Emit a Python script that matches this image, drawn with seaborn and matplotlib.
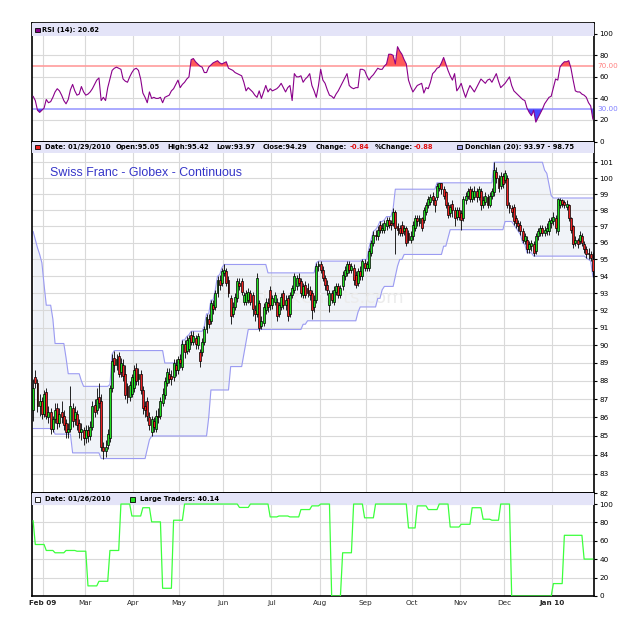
import numpy as np
import pandas as pd
import matplotlib
matplotlib.use("Agg")
import matplotlib.pyplot as plt
from matplotlib.patches import Rectangle
from matplotlib.ticker import NullLocator
import matplotlib.transforms as mtransforms
import seaborn as sns

# daily bars, Swiss Franc futures, 26 Jan 2009 - 29 Jan 2010
open_px = [
    86.4, 88.2, 87.9, 86.6, 86.9, 86.2, 87.4, 86.0, 86.3, 85.4,
    85.9, 86.5, 85.7, 86.3, 86.1, 85.7, 85.2, 85.4, 86.5, 85.9,
    86.2, 85.7, 85.2, 85.3, 84.9, 85.3, 85.0, 85.5, 86.7, 86.4,
    87.1, 86.9, 84.4, 84.2, 84.5, 84.9, 87.6, 89.3, 88.9, 89.4,
    88.5, 88.9, 88.4, 87.7, 87.1, 87.3, 87.6, 88.7, 88.1, 88.4,
    87.5, 86.6, 86.9, 86.0, 85.2, 85.8, 85.4, 86.1, 86.1, 86.8,
    87.2, 87.9, 88.4, 88.3, 88.2, 88.9, 88.6, 89.2, 88.8, 90.1,
    89.7, 89.8, 90.6, 90.2, 90.4, 90.0, 89.6, 89.6, 90.2, 90.9,
    91.5, 91.4, 92.3, 92.2, 93.0, 93.8, 93.6, 94.2, 94.3, 93.8,
    92.7, 91.8, 92.2, 92.7, 93.6, 93.7, 92.5, 92.5, 92.6, 93.0,
    92.9, 92.0, 91.8, 92.4, 91.1, 91.3, 92.0, 92.4, 93.2, 92.3,
    92.5, 92.5, 91.8, 92.2, 93.0, 92.3, 92.7, 91.8, 92.9, 93.2,
    93.4, 93.9, 93.7, 92.9, 93.5, 93.3, 93.2, 93.0, 92.2, 92.6,
    94.6, 94.7, 94.4, 93.9, 93.5, 92.3, 93.0, 92.5, 93.1, 93.4,
    92.9, 93.4, 94.0, 94.2, 94.7, 94.4, 94.5, 94.1, 93.6, 94.3,
    94.0, 94.8, 94.5, 94.5, 95.4, 96.0, 96.5, 96.4, 97.1, 96.8,
    96.8, 97.0, 97.4, 97.2, 97.2, 97.9, 97.0, 96.9, 97.1, 96.7,
    96.9, 96.6, 96.2, 96.4, 96.9, 97.5, 97.2, 97.5, 97.4, 97.9,
    98.3, 98.5, 98.9, 98.6, 98.8, 99.4, 99.7, 99.3, 99.1, 98.3,
    97.8, 98.4, 98.0, 97.6, 98.0, 97.8, 97.5, 98.6, 98.9, 99.3,
    98.7, 98.8, 99.2, 98.8, 99.2, 98.3, 98.5, 98.8, 98.3, 98.9,
    99.1, 100.4, 100.0, 99.5, 100.1, 99.9, 100.0, 98.3, 98.1, 98.2,
    97.5, 97.2, 97.1, 96.7, 96.1, 96.2, 95.6, 95.8, 95.9, 95.5,
    96.4, 96.6, 96.9, 96.6, 96.7, 96.7, 97.2, 97.3, 97.5, 96.7,
    98.3, 98.6, 98.5, 98.2, 98.3, 97.5, 97.0, 96.0, 96.2, 96.1,
    96.4, 95.9, 95.6, 95.4, 95.3, 95.05,
]
close_px = [
    87.6, 87.9, 86.6, 86.9, 86.2, 87.3, 86.1, 86.3, 85.4, 85.9,
    86.4, 85.7, 86.2, 86.0, 85.6, 85.2, 85.4, 86.6, 85.8, 86.3,
    85.6, 85.2, 85.4, 84.9, 85.3, 85.0, 85.5, 86.6, 86.3, 87.0,
    86.8, 84.4, 84.2, 84.4, 85.1, 87.6, 89.1, 88.9, 89.2, 88.4,
    89.0, 88.3, 87.2, 87.1, 87.8, 88.2, 88.6, 88.0, 88.4, 87.5,
    86.5, 86.4, 86.1, 85.6, 85.9, 85.5, 86.1, 86.0, 86.9, 87.3,
    88.0, 88.5, 88.1, 88.1, 89.0, 88.6, 89.2, 89.0, 90.1, 89.6,
    90.3, 90.4, 90.2, 90.5, 90.1, 90.5, 89.1, 90.2, 90.9, 91.6,
    91.2, 92.4, 92.1, 93.0, 93.8, 93.5, 94.3, 94.4, 93.6, 93.0,
    91.7, 92.2, 92.8, 93.7, 93.4, 93.1, 92.9, 93.0, 93.1, 92.5,
    92.1, 91.8, 93.9, 91.0, 91.4, 92.2, 92.5, 92.2, 92.3, 92.7,
    92.9, 91.7, 92.3, 92.8, 92.3, 92.6, 91.7, 92.9, 93.3, 94.0,
    93.9, 93.6, 93.0, 93.4, 92.9, 93.0, 92.9, 92.0, 92.6, 94.6,
    94.7, 94.4, 93.9, 93.5, 93.2, 93.0, 92.6, 93.2, 93.4, 92.9,
    93.3, 94.1, 94.4, 94.7, 94.4, 94.6, 93.8, 93.5, 94.3, 94.0,
    94.9, 94.5, 94.7, 95.5, 96.0, 96.5, 96.4, 96.8, 96.8, 96.9,
    97.2, 97.4, 97.1, 97.1, 97.9, 96.9, 96.8, 96.6, 96.6, 96.9,
    96.0, 96.2, 96.4, 97.1, 97.5, 97.3, 97.5, 96.9, 98.0, 98.3,
    98.7, 98.8, 98.6, 98.3, 99.5, 99.7, 99.3, 98.9, 98.3, 97.7,
    98.2, 98.0, 97.5, 98.0, 97.6, 97.4, 98.7, 98.9, 99.2, 98.7,
    99.2, 99.2, 98.8, 99.3, 98.3, 98.6, 98.9, 98.3, 98.9, 99.2,
    100.5, 100.0, 99.4, 100.1, 99.6, 100.3, 98.3, 98.1, 97.9, 97.3,
    97.2, 97.0, 96.7, 96.2, 96.4, 95.6, 95.9, 96.0, 95.4, 96.4,
    96.7, 96.9, 96.6, 96.8, 96.9, 97.3, 97.4, 97.6, 96.9, 98.7,
    98.6, 98.4, 98.3, 98.4, 97.5, 96.8, 95.9, 96.2, 95.9, 96.5,
    96.0, 95.6, 95.3, 95.3, 95.1, 94.29,
]
high_px = [
    88.1, 88.6, 88.1, 87.3, 87.1, 87.5, 87.6, 86.6, 86.5, 86.1,
    86.8, 86.8, 86.5, 86.9, 86.4, 85.9, 85.7, 87.7, 86.8, 86.6,
    86.4, 85.9, 85.7, 85.5, 85.6, 85.6, 85.8, 86.9, 87.0, 87.6,
    87.9, 87.3, 84.7, 84.8, 85.4, 87.8, 89.5, 89.7, 89.5, 89.6,
    89.3, 89.2, 88.9, 87.9, 88.0, 88.4, 88.9, 89.0, 88.7, 88.6,
    87.7, 86.9, 87.1, 86.3, 86.1, 86.0, 86.4, 86.5, 87.1, 87.6,
    88.2, 88.7, 88.7, 88.6, 89.2, 89.2, 89.4, 89.5, 90.3, 90.3,
    90.5, 90.6, 90.8, 90.8, 90.6, 90.7, 89.8, 90.4, 91.1, 91.8,
    91.8, 92.6, 92.6, 93.2, 94.0, 94.1, 94.5, 94.7, 94.5, 94.0,
    92.9, 92.5, 93.0, 93.9, 93.9, 93.9, 93.1, 93.2, 93.3, 93.2,
    93.1, 92.3, 94.2, 92.6, 91.7, 92.4, 92.7, 92.7, 93.4, 92.9,
    93.1, 92.7, 92.5, 93.0, 93.2, 92.9, 92.9, 93.1, 93.5, 94.2,
    94.1, 94.2, 93.9, 93.6, 93.7, 93.6, 93.4, 93.2, 92.9, 94.8,
    94.9, 94.9, 94.6, 94.1, 93.8, 93.2, 93.2, 93.4, 93.6, 93.6,
    93.5, 94.3, 94.6, 94.9, 94.9, 94.8, 94.7, 94.3, 94.5, 94.6,
    95.0, 95.0, 94.9, 95.7, 96.2, 96.7, 96.8, 97.0, 97.3, 97.2,
    97.4, 97.6, 97.6, 97.4, 98.1, 98.0, 97.2, 97.1, 97.3, 97.1,
    97.0, 96.8, 96.7, 97.3, 97.7, 97.7, 97.7, 97.6, 98.2, 98.5,
    98.9, 99.0, 99.1, 98.8, 99.7, 99.7, 99.7, 99.5, 99.2, 98.5,
    98.4, 98.6, 98.2, 98.2, 98.2, 98.0, 98.9, 99.1, 99.4, 99.5,
    99.4, 99.5, 99.4, 99.5, 99.4, 98.9, 99.1, 99.0, 99.1, 99.4,
    101.0, 100.7, 100.2, 100.4, 100.3, 100.5, 100.2, 98.5, 98.3, 98.4,
    97.7, 97.4, 97.3, 96.9, 96.6, 96.4, 96.1, 96.2, 96.1, 96.6,
    96.9, 97.1, 97.1, 97.0, 97.2, 97.5, 97.6, 97.9, 97.7, 98.75,
    98.75, 98.7, 98.6, 98.6, 98.4, 97.6, 97.1, 96.4, 96.3, 96.7,
    96.6, 96.1, 95.8, 95.7, 95.5, 95.42,
]
low_px = [
    85.8, 87.6, 86.3, 86.1, 85.9, 86.0, 85.9, 85.7, 85.1, 85.2,
    85.7, 85.4, 85.5, 85.7, 85.3, 84.9, 84.9, 85.2, 85.5, 85.6,
    85.3, 84.9, 84.8, 84.5, 84.6, 84.7, 84.8, 85.3, 86.0, 86.2,
    86.5, 84.2, 83.8, 83.9, 84.3, 84.7, 87.4, 88.5, 88.6, 88.2,
    88.2, 88.0, 87.0, 86.8, 86.9, 87.1, 87.4, 87.8, 87.8, 87.3,
    86.2, 86.0, 85.8, 85.3, 85.0, 85.2, 85.2, 85.7, 85.9, 86.6,
    87.0, 87.7, 87.9, 87.8, 88.0, 88.3, 88.4, 88.7, 88.6, 89.3,
    89.5, 89.6, 90.0, 90.0, 89.8, 89.8, 88.8, 89.4, 90.0, 90.7,
    91.0, 91.2, 91.8, 92.0, 92.8, 93.2, 93.4, 94.0, 93.4, 92.8,
    91.2, 91.6, 92.0, 92.5, 93.2, 92.9, 92.3, 92.3, 92.4, 92.3,
    91.7, 91.4, 91.6, 90.8, 90.9, 91.1, 91.8, 91.9, 92.0, 92.1,
    92.3, 91.4, 91.6, 92.0, 92.1, 92.0, 91.4, 91.6, 92.7, 93.0,
    93.2, 93.4, 92.8, 92.7, 92.7, 92.8, 92.6, 91.5, 91.9, 92.4,
    94.3, 94.2, 93.7, 93.2, 92.9, 91.9, 92.4, 92.3, 92.9, 92.7,
    92.7, 93.2, 93.8, 94.0, 94.2, 94.2, 93.5, 93.3, 93.4, 93.8,
    93.8, 94.3, 94.3, 94.3, 95.2, 95.8, 96.2, 96.2, 96.6, 96.6,
    96.6, 96.8, 96.9, 96.8, 97.0, 95.3, 96.5, 96.4, 96.4, 96.5,
    95.8, 96.0, 96.0, 96.2, 96.7, 97.0, 97.0, 96.7, 97.2, 97.7,
    98.1, 98.3, 98.3, 97.9, 98.6, 99.2, 99.0, 98.7, 98.1, 97.5,
    97.6, 97.6, 97.0, 97.4, 97.4, 96.8, 97.3, 98.4, 98.7, 98.5,
    98.5, 98.6, 98.5, 98.6, 98.0, 98.1, 98.3, 98.1, 98.2, 98.7,
    98.9, 99.7, 99.1, 99.3, 99.4, 99.7, 98.1, 97.8, 97.6, 97.1,
    96.9, 96.7, 96.5, 96.0, 95.9, 95.4, 95.4, 95.5, 95.2, 95.3,
    96.2, 96.4, 96.4, 96.4, 96.5, 96.5, 96.9, 97.1, 96.6, 96.5,
    98.1, 98.2, 98.1, 98.0, 97.3, 96.6, 95.7, 95.8, 95.7, 95.9,
    95.8, 95.4, 95.1, 95.0, 94.9, 93.97,
]
donchian_hi = [
    96.7, 96.2, 95.7, 95.3, 94.8, 93.5, 92.3, 92.3, 92.3, 91.5,
    90.1, 90.1, 90.1, 90.1, 90.1, 89.3, 88.4, 88.4, 88.4, 88.4,
    88.4, 88.4, 88.0, 87.7, 87.7, 87.7, 87.7, 87.7, 87.7, 87.7,
    87.7, 87.7, 87.7, 87.7, 87.7, 87.8, 89.5, 89.7, 89.7, 89.7,
    89.7, 89.7, 89.7, 89.7, 89.7, 89.7, 89.7, 89.7, 89.7, 89.7,
    89.7, 89.7, 89.7, 89.7, 89.7, 89.7, 89.7, 89.7, 89.7, 89.7,
    89.0, 89.0, 89.0, 89.0, 89.0, 89.0, 89.0, 89.0, 90.3, 90.3,
    90.5, 90.6, 90.8, 90.8, 90.8, 90.8, 90.8, 90.8, 91.1, 91.8,
    91.8, 92.6, 92.6, 93.2, 94.0, 94.1, 94.5, 94.7, 94.7, 94.7,
    94.7, 94.7, 94.7, 94.7, 94.7, 94.7, 94.7, 94.7, 94.7, 94.7,
    94.7, 94.7, 94.7, 94.7, 94.7, 94.7, 94.7, 94.2, 94.2, 94.2,
    94.2, 94.2, 94.2, 94.2, 94.2, 94.2, 94.2, 94.2, 94.2, 94.2,
    94.2, 94.2, 94.2, 94.2, 94.2, 94.2, 94.2, 94.2, 94.2, 94.8,
    94.9, 94.9, 94.9, 94.9, 94.9, 94.9, 94.9, 94.9, 94.9, 94.9,
    94.9, 94.9, 94.9, 94.9, 94.9, 94.9, 94.9, 94.9, 94.9, 94.9,
    95.0, 95.0, 95.0, 95.7, 96.2, 96.7, 96.8, 97.0, 97.3, 97.3,
    97.4, 97.6, 97.6, 97.6, 98.1, 99.3, 99.3, 99.3, 99.3, 99.3,
    99.3, 99.3, 99.3, 99.3, 99.3, 99.3, 99.3, 99.3, 99.3, 99.3,
    99.3, 99.3, 99.3, 99.3, 99.7, 99.7, 99.7, 99.7, 99.7, 99.7,
    99.7, 99.7, 99.7, 99.7, 99.7, 99.7, 99.7, 99.7, 99.7, 99.7,
    99.7, 99.7, 99.7, 99.7, 99.7, 99.7, 99.7, 99.7, 99.7, 99.7,
    101.0, 101.0, 101.0, 101.0, 101.0, 101.0, 101.0, 101.0, 101.0, 101.0,
    101.0, 101.0, 101.0, 101.0, 101.0, 101.0, 101.0, 101.0, 101.0, 101.0,
    101.0, 101.0, 101.0, 100.5, 100.3, 99.6, 98.9, 98.75, 98.75, 98.75,
    98.75, 98.75, 98.75, 98.75, 98.75, 98.75, 98.75, 98.75, 98.75, 98.75,
    98.75, 98.75, 98.75, 98.75, 98.75, 98.75,
]
donchian_lo = [
    85.4, 85.4, 85.4, 85.4, 85.4, 85.4, 85.4, 85.4, 85.4, 85.4,
    85.1, 85.1, 85.1, 85.1, 85.1, 85.1, 85.1, 85.1, 84.1, 84.1,
    84.1, 84.1, 84.1, 84.1, 84.1, 84.1, 84.1, 84.1, 84.1, 84.1,
    84.1, 83.8, 83.8, 83.8, 83.8, 83.8, 83.8, 83.8, 83.8, 83.8,
    83.8, 83.8, 83.8, 83.8, 83.8, 83.8, 83.8, 83.8, 83.8, 83.8,
    83.8, 83.8, 84.3, 84.8, 85.0, 85.0, 85.0, 85.0, 85.0, 85.0,
    85.0, 85.0, 85.0, 85.0, 85.0, 85.0, 85.0, 85.0, 85.0, 85.0,
    85.0, 85.0, 85.0, 85.0, 85.0, 85.0, 85.0, 85.0, 85.0, 85.0,
    86.0, 87.5, 87.5, 87.5, 87.5, 87.5, 87.5, 87.5, 87.5, 87.5,
    88.8, 88.8, 88.8, 88.8, 88.8, 88.8, 89.5, 90.2, 90.9, 90.9,
    90.9, 90.9, 90.9, 90.9, 90.9, 90.9, 90.9, 90.9, 90.9, 90.9,
    90.9, 90.9, 90.9, 90.9, 90.9, 90.9, 90.9, 90.9, 90.9, 90.9,
    90.9, 90.9, 90.9, 91.2, 91.2, 91.4, 91.4, 91.4, 91.4, 91.4,
    91.4, 91.4, 91.4, 91.4, 91.4, 91.4, 91.4, 91.4, 91.4, 91.4,
    91.4, 91.4, 91.4, 91.4, 91.4, 91.4, 91.4, 91.4, 91.9, 92.2,
    92.2, 92.2, 92.2, 92.2, 92.2, 92.2, 92.2, 92.7, 92.7, 93.2,
    93.4, 93.4, 93.4, 93.4, 93.4, 94.0, 94.6, 95.0, 95.0, 95.3,
    95.3, 95.3, 95.3, 95.3, 95.3, 95.3, 95.3, 95.3, 95.3, 95.3,
    95.3, 95.3, 95.3, 95.3, 95.3, 95.3, 95.3, 95.8, 95.8, 96.3,
    96.8, 96.8, 96.8, 96.8, 96.8, 96.8, 96.8, 96.8, 96.8, 96.8,
    96.8, 96.8, 96.8, 96.8, 96.8, 96.8, 96.8, 96.8, 96.8, 96.8,
    96.8, 96.8, 96.8, 96.8, 96.8, 97.3, 97.3, 97.3, 97.3, 97.1,
    96.9, 96.7, 96.5, 96.0, 95.9, 95.4, 95.4, 95.4, 95.2, 95.2,
    95.2, 95.2, 95.2, 95.2, 95.2, 95.2, 95.2, 95.2, 95.2, 95.2,
    95.2, 95.2, 95.2, 95.2, 95.2, 95.2, 95.2, 95.2, 95.2, 95.2,
    95.2, 95.2, 95.1, 95.0, 94.9, 93.97,
]
rsi_14 = [
    42, 38, 29, 27, 29, 31, 39, 36, 37, 41,
    46, 49, 47, 43, 38, 35, 39, 48, 53, 47,
    43, 44, 51, 46, 43, 44, 46, 49, 53, 57,
    59, 38, 41, 38, 50, 58, 66, 68, 69, 68,
    67, 58, 56, 55, 60, 64, 67, 68, 66, 58,
    45, 41, 36, 46, 40, 41, 40, 40, 41, 36,
    41, 42, 43, 47, 49, 53, 57, 50, 53, 55,
    58, 60, 76, 77, 74, 72, 70, 69, 64, 64,
    69, 71, 73, 74, 75, 73, 72, 73, 74, 68,
    67, 66, 64, 63, 62, 61, 55, 47, 50, 48,
    46, 43, 41, 47, 40, 46, 52, 46, 49, 47,
    48, 49, 51, 54, 50, 46, 50, 52, 38, 63,
    60, 60, 61, 55, 58, 60, 63, 52, 47, 41,
    52, 67, 57, 54, 48, 43, 42, 40, 44, 47,
    51, 55, 59, 63, 52, 50, 49, 50, 50, 67,
    67, 66, 61, 57, 60, 62, 65, 68, 67, 67,
    70, 72, 81, 81, 80, 72, 88, 84, 81, 76,
    72, 57, 51, 46, 49, 52, 53, 54, 45, 50,
    49, 55, 63, 65, 68, 69, 73, 78, 72, 66,
    61, 57, 63, 47, 50, 54, 47, 41, 47, 52,
    49, 46, 50, 54, 58, 56, 54, 57, 58, 55,
    59, 63, 56, 50, 52, 54, 57, 60, 52, 47,
    45, 43, 41, 39, 38, 31, 27, 24, 29, 18,
    22, 26, 30, 35, 38, 41, 42, 50, 58, 57,
    69, 72, 74, 74, 75, 68, 57, 47, 46, 46,
    44, 43, 41, 36, 33, 20.62,
]
large_traders = [
    82, 56, 56, 56, 56, 56, 49.5, 49.5, 49.5, 49.5,
    47, 47, 47, 47, 47, 49.5, 49.5, 49.5, 49.5, 49.5,
    48.7, 48.7, 48.7, 48.7, 48.7, 11, 11, 11, 11, 11,
    16, 16, 16, 16, 16, 49.5, 49.5, 49.5, 49.5, 49.5,
    100, 100, 100, 100, 100, 87, 87, 87, 87, 87,
    96, 96, 96, 96, 80.6, 80.6, 80.6, 80.6, 80.6, 8.4,
    8.4, 8.4, 8.4, 8.4, 82.4, 82.4, 82.4, 82.4, 82.4, 100,
    100, 100, 100, 100, 100, 100, 100, 100, 100, 100,
    100, 100, 100, 100, 100, 100, 100, 100, 100, 100,
    100, 100, 100, 100, 96.3, 96.3, 96.3, 96.3, 96.3, 100,
    100, 100, 100, 100, 100, 100, 100, 100, 86, 86,
    86, 86, 87, 87, 87, 87, 87, 86, 86, 86,
    86, 86, 94, 94, 94, 94, 94, 98, 98, 98,
    98, 100, 100, 100, 100, 100, 0, 0, 0, 0,
    0, 47, 47, 47, 47, 47, 100, 100, 100, 100,
    100, 85, 85, 85, 85, 85, 100, 100, 100, 100,
    100, 100, 100, 100, 100, 100, 100, 100, 100, 100,
    100, 74, 74, 74, 74, 98, 98, 98, 98, 98,
    94, 94, 94, 94, 94, 100, 100, 100, 100, 100,
    75, 75, 75, 75, 75, 78, 78, 78, 78, 78,
    96, 96, 96, 96, 96, 83.5, 83.5, 83.5, 83.5, 82.4,
    82.4, 82.4, 82.4, 100, 100, 100, 100, 100, 0, 0,
    0, 0, 0, 0, 0, 0, 0, 0, 0, 0,
    0, 0, 0, 0, 0, 0, 0, 13.5, 13.5, 13.5,
    13.5, 13.5, 66, 66, 66, 66, 66, 66, 66, 66,
    66, 40.14, 40.14, 40.14, 40.14, 40.14,
]

holidays = pd.to_datetime(["2009-02-16", "2009-04-10", "2009-05-25", "2009-07-03",
                           "2009-09-07", "2009-11-26", "2009-12-25", "2010-01-01",
                           "2010-01-18"])
dates = pd.bdate_range("2009-01-26", "2010-01-29")
dates = dates[~dates.isin(holidays)]

df = pd.DataFrame({"date": dates, "open": open_px, "high": high_px, "low": low_px,
                   "close": close_px, "don_hi": donchian_hi, "don_lo": donchian_lo,
                   "rsi": rsi_14, "lt": large_traders})
df["idx"] = np.arange(len(df))
n = len(df)

sns.set_theme(style="white")
plt.rcParams["font.family"] = ["DejaVu Sans"]

W, H = 625, 623
fig = plt.figure(figsize=(W / 100, H / 100), dpi=100)
fig.patch.set_facecolor("white")


def fx(px):
    return px / W


def fy(py):
    return 1 - py / H


LEFT, RIGHT = 32, 594


def panel(top, bottom):
    return fig.add_axes([fx(LEFT), fy(bottom), fx(RIGHT - LEFT), (bottom - top) / H])


ax_rsi = panel(23, 141.5)
ax_px = panel(141.5, 493)
ax_lt = panel(493, 596)

# month boundaries
month_pos, month_lab, month_bold = [], [], []
for i in range(1, n):
    if dates[i].month != dates[i - 1].month:
        month_pos.append(i - 0.5)
        first = len(month_pos) == 1
        if first or dates[i].month == 1:
            month_lab.append(dates[i].strftime("%b %y"))
            month_bold.append(True)
        else:
            month_lab.append(dates[i].strftime("%b"))
            month_bold.append(False)

GRID = "#d9d9d9"
BAND = "#e4e4f8"


def style(ax, ticks, ylim, band_px, panel_px):
    ax.set_xlim(-0.5, n - 0.5)
    ax.set_ylim(*ylim)
    ax.set_yticks(ticks, [str(t) for t in ticks])
    ax.yaxis.set_minor_locator(NullLocator())
    ax.set_xticks(month_pos)
    ax.yaxis.tick_right()
    ax.tick_params(axis="y", which="major", direction="out", length=2.5, width=0.8,
                   color="black", labelsize=5.2, pad=1.5, labelcolor="black")
    ax.tick_params(axis="x", length=0, labelbottom=False)
    ax.grid(True, which="major", color=GRID, lw=0.8)
    ax.set_axisbelow(True)
    for s in ax.spines.values():
        s.set_color("black")
        s.set_linewidth(1.2)
    ax.set_xlabel("")
    ax.set_ylabel("")
    h = band_px / panel_px
    ax.add_patch(Rectangle((0, 1 - h), 1, h, transform=ax.transAxes, fc=BAND,
                           ec="none", zorder=3))


# ---- RSI panel
sns.lineplot(data=df, x="idx", y="rsi", ax=ax_rsi, color="#8a008a", lw=0.8,
             legend=False, zorder=4)
rsi = df["rsi"].to_numpy()
ax_rsi.fill_between(df["idx"], rsi, 70, where=rsi > 70, interpolate=True,
                    color="#ff5a5a", lw=0, zorder=3)
ax_rsi.fill_between(df["idx"], rsi, 30, where=rsi < 30, interpolate=True,
                    color="#4848ff", lw=0, zorder=3)
ax_rsi.axhline(70, color="#ff9c9c", lw=1.2, zorder=2)
ax_rsi.axhline(30, color="#9c9cff", lw=1.2, zorder=2)
style(ax_rsi, [0, 20, 40, 60, 80, 100], (0, 110), 12.5, 118.5)
blend = mtransforms.blended_transform_factory(ax_rsi.transAxes, ax_rsi.transData)
ax_rsi.text(1.0065, 70, "70.00", transform=blend, color="#ff8080", fontsize=5.2,
            va="center", ha="left")
ax_rsi.text(1.0065, 30, "30.00", transform=blend, color="#7f7fff", fontsize=5.2,
            va="center", ha="left")

# ---- price panel
ax_px.set_yscale("log")
ax_px.fill_between(df["idx"], df["don_lo"], df["don_hi"], color="#f0f3f8", lw=0,
                   zorder=0.3)
sns.lineplot(data=df, x="idx", y="don_hi", ax=ax_px, color="#9b9bf2", lw=0.8,
             legend=False, zorder=2)
sns.lineplot(data=df, x="idx", y="don_lo", ax=ax_px, color="#9b9bf2", lw=0.8,
             legend=False, zorder=2)
ax_px.text(0.51, 0.555, "\u00a9StockCharts.com", transform=ax_px.transAxes,
           fontsize=13, color="#ececec", ha="center", va="center", zorder=0.6)
up = df["close"] >= df["open"]
body_lo = np.minimum(df["open"], df["close"])
body_h = np.maximum((df["close"] - df["open"]).abs(), 0.05)
ax_px.vlines(df["idx"], df["low"], df["high"], color="black", lw=0.6, zorder=4)
ax_px.bar(df["idx"], body_h, bottom=body_lo, width=0.88,
          color=np.where(up, "#22dd22", "#ee2020"), edgecolor="black",
          linewidth=0.5, zorder=5)
style(ax_px, list(range(82, 102)), (82, 102.33), 11.5, 351.5)

# ---- large traders panel
sns.lineplot(data=df, x="idx", y="lt", ax=ax_lt, color="#3cff3c", lw=0.9,
             legend=False, zorder=4)
style(ax_lt, [0, 20, 40, 60, 80, 100], (0, 112), 12, 103)
ax_lt.tick_params(axis="x", labelbottom=True, labelsize=5.2, pad=3)
ax_lt.set_xticks(month_pos, month_lab)
for lab, b in zip(ax_lt.get_xticklabels(), month_bold):
    lab.set_fontweight("bold" if b else "normal")

# ---- header texts
HDR = dict(fontsize=4.9, fontweight="bold", va="center", ha="left", color="black")


def square(x, y, fc):
    fig.add_artist(Rectangle((fx(x), fy(y + 4.5)), 4.5 / W, 4.5 / H, fc=fc, ec="black",
                             lw=0.6, transform=fig.transFigure, zorder=10))


square(35, 27.5, "#8a008a")
fig.text(fx(42), fy(29.8), "RSI (14): 20.62", **HDR)

square(35, 145, "#ee2020")
ym = fy(147.4)
for x, s, c in [(45, "Date: 01/29/2010", "black"), (115.7, "Open:95.05", "black"),
                (167.7, "High:95.42", "black"), (216, "Low:93.97", "black"),
                (262.3, "Close:94.29", "black"), (315.5, "Change:", "black"),
                (350, "-0.84", "#e01010"), (374.3, "%Change:", "black"),
                (413.3, "-0.88", "#e01010"), (465, "Donchian (20): 93.97 - 98.75", "black")]:
    fig.text(fx(x), ym, s, **{**HDR, "color": c})
square(457, 145, "#9b9be0")

square(35, 497, "white")
fig.text(fx(45), fy(499.4), "Date: 01/26/2010", **HDR)
square(130, 497, "#22dd22")
fig.text(fx(140), fy(499.4), "Large Traders: 40.14", **HDR)

fig.text(fx(50), fy(172.5), "Swiss Franc - Globex - Continuous", color="#3434c8",
         fontsize=8.9, family=["Liberation Sans", "DejaVu Sans"], va="center", ha="left")

fig.savefig("out.png", dpi=100, facecolor="white")
